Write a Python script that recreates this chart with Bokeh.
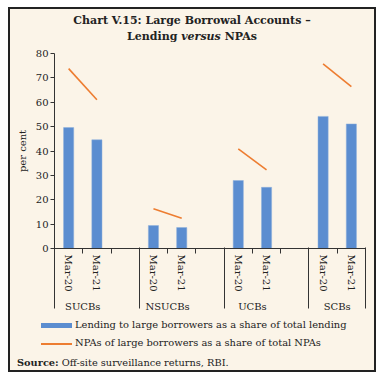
from bokeh.plotting import figure
from bokeh.models import Range1d, FixedTicker, LinearAxis, ColumnDataSource, Div
from bokeh.layouts import column
from bokeh.embed import file_html
from bokeh.resources import INLINE

# ---- data ----
groups = ["SUCBs", "NSUCBs", "UCBs", "SCBs"]
periods = ["Mar-20", "Mar-21"]
lending_mar20 = [49.6, 9.4, 27.9, 54.2]
lending_mar21 = [44.6, 8.6, 25.1, 51.1]
npa_mar20 = [73.8, 16.3, 40.9, 75.7]
npa_mar21 = [61.0, 12.4, 32.3, 66.4]
y_ticks = [0, 10, 20, 30, 40, 50, 60, 70, 80]
title_line1 = "Chart V.15: Large Borrowal Accounts \u2013"
title_line2 = "Lending <i>versus</i> NPAs"
legend_labels = ["Lending to large borrowers as a share of total lending",
                 "NPAs of large borrowers as a share of total NPAs"]
source_text = "<b>Source:</b> Off-site surveillance returns, RBI."

BG = "#FBF4E8"
BLUE = "#5B8DD0"
ORANGE = "#ED7D31"
FONT = "DejaVu Serif"
TXT = "#222222"
AX = "#333333"

# slot layout: each group has 3 slots (two periods + gap), last group 2
slot_per_group = 3
n_slots = slot_per_group * (len(groups) - 1) + len(periods)
x20 = [g * slot_per_group + 0.5 for g in range(len(groups))]
x21 = [g * slot_per_group + 1.5 for g in range(len(groups))]

p = figure(width=364, height=271, output_backend="svg", toolbar_location=None,
           x_range=Range1d(0, n_slots), y_range=Range1d(0, 80),
           min_border_left=44, min_border_right=9, min_border_top=8,
           min_border_bottom=68)
p.background_fill_color = BG
p.border_fill_color = BG
p.outline_line_color = None
p.xgrid.grid_line_color = None
p.ygrid.grid_line_color = None

bars = ColumnDataSource(dict(x=x20 + x21, top=lending_mar20 + lending_mar21))
p.vbar(x="x", top="top", width=0.36, bottom=0, source=bars,
       fill_color=BLUE, line_color="#8FB0DD", line_width=0.5)

segs = ColumnDataSource(dict(x0=x20, y0=npa_mar20, x1=x21, y1=npa_mar21))
p.segment(x0="x0", y0="y0", x1="x1", y1="y1", source=segs,
          line_color=ORANGE, line_width=1.6)

# y axis
ya = p.yaxis[0]
ya.ticker = FixedTicker(ticks=y_ticks)
ya.axis_label = "per cent"
ya.axis_label_text_font = FONT
ya.axis_label_text_font_style = "normal"
ya.axis_label_text_font_size = "10px"
ya.axis_label_text_color = TXT
ya.axis_label_standoff = 5
ya.major_label_text_font = FONT
ya.major_label_text_font_size = "10px"
ya.major_label_text_color = TXT
ya.major_tick_out = 4
ya.major_tick_in = 0
ya.minor_tick_line_color = None
ya.major_label_standoff = 2
ya.axis_line_color = AX
ya.major_tick_line_color = AX

# x axis 1: period labels, short ticks at slot boundaries
xa = p.xaxis[0]
xa.ticker = FixedTicker(ticks=x20 + x21, minor_ticks=list(range(0, n_slots + 1)))
xa.major_label_overrides = {**{x: periods[0] for x in x20}, **{x: periods[1] for x in x21}}
xa.major_label_orientation = "vertical"
xa.major_tick_line_color = None
xa.major_tick_out = 0
xa.major_tick_in = 0
xa.minor_tick_out = 5
xa.minor_tick_in = 0
xa.minor_tick_line_color = AX
xa.axis_line_color = AX
xa.major_label_standoff = 1
xa.major_label_text_font = FONT
xa.major_label_text_font_size = "10px"
xa.major_label_text_color = TXT

# x axis 2: group labels with long separators
centers = [g * slot_per_group + 1 for g in range(len(groups) - 1)] + [x20[-1] + 0.5]
seps = [g * slot_per_group for g in range(len(groups))] + [n_slots]
xa2 = LinearAxis(ticker=FixedTicker(ticks=centers, minor_ticks=seps),
                 major_label_overrides={c: g for c, g in zip(centers, groups)})
xa2.axis_line_color = None
xa2.major_tick_line_color = None
xa2.major_tick_out = 0
xa2.major_tick_in = 0
xa2.minor_tick_in = 47
xa2.minor_tick_out = 14
xa2.minor_tick_line_color = AX
xa2.major_label_standoff = -8
xa2.major_label_text_font = FONT
xa2.major_label_text_font_size = "10px"
xa2.major_label_text_color = TXT
p.add_layout(xa2, "below")

title_div = Div(
    text=('<div style="font-family:\'DejaVu Serif\'; font-weight:bold; font-size:11px; '
          'line-height:16px; text-align:center; color:#222; padding-top:4px; width:364px;">'
          + title_line1 + '<br>' + title_line2 + '</div>'),
    width=364, height=36, margin=0)

swatch = ('<span style="display:inline-block; width:31px; height:{h}px; background:{c}; '
          'vertical-align:middle; margin-right:3px;"></span>')
legend_div = Div(
    text=('<div style="font-family:\'DejaVu Serif\'; font-size:9.9px; line-height:18px; '
          'color:#222; padding-top:0px; padding-left:31px; white-space:nowrap;">'
          '<div>' + swatch.format(h=5, c=BLUE) + legend_labels[0] + '</div>'
          '<div>' + swatch.format(h=2, c=ORANGE) + legend_labels[1] + '</div>'
          '</div>'),
    width=364, height=36, margin=0)

source_div = Div(
    text=('<div style="font-family:\'DejaVu Serif\'; font-size:9.8px; line-height:15px; '
          'color:#222; padding-top:3px; padding-left:7px; white-space:nowrap;">'
          + source_text + '</div>'),
    width=364, height=18, margin=0)

layout = column(title_div, p, legend_div, source_div, spacing=0,
                styles={"background-color": BG, "border": "2px solid #222222",
                        "margin-left": "8px", "margin-top": "7px"})

open("out.html", "w").write(file_html(layout, INLINE))
